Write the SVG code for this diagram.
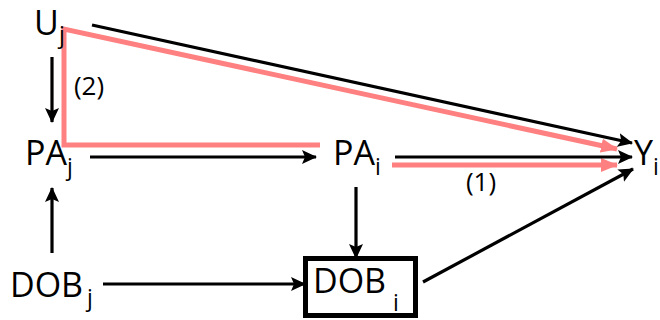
<svg xmlns="http://www.w3.org/2000/svg" width="660" height="320" viewBox="0 0 660 320">
<style>
.lbl{font-family:"Open Sans","Liberation Sans",sans-serif;font-size:34px;fill:#000}
.sub{font-family:"Open Sans","Liberation Sans",sans-serif;font-size:23px;fill:#000}
.num{font-family:"Open Sans","Liberation Sans",sans-serif;font-size:26px;fill:#000}
.blk{stroke:#000;stroke-width:3.2;fill:none}
.red{stroke:#ff8080;stroke-width:5;fill:none}
</style>
<defs>
<marker id="ab" markerUnits="userSpaceOnUse" markerWidth="16" markerHeight="14" refX="14" refY="7" orient="auto"><path d="M0,0 L15,7 L0,14 L3,7 Z" fill="#000"/></marker>
<marker id="ar" markerUnits="userSpaceOnUse" markerWidth="18" markerHeight="14" refX="16" refY="7" orient="auto"><path d="M0,0 L17,7 L0,14 Z" fill="#ff8080"/></marker>
</defs>
<g id="connectors">
<path class="red" d="M320,145 L64,145 L64,29 L617,149" marker-end="url(#ar)"/>
<line class="red" x1="392" y1="165" x2="617" y2="165" marker-end="url(#ar)"/>
<line class="blk" x1="92" y1="25" x2="632" y2="143" marker-end="url(#ab)"/>
<line class="blk" x1="52" y1="57" x2="52" y2="122" marker-end="url(#ab)"/>
<line class="blk" x1="90" y1="157" x2="316" y2="157" marker-end="url(#ab)"/>
<line class="blk" x1="395" y1="157" x2="632" y2="157" marker-end="url(#ab)"/>
<line class="blk" x1="52" y1="253" x2="52" y2="188" marker-end="url(#ab)"/>
<line class="blk" x1="103" y1="284" x2="305" y2="284" marker-end="url(#ab)"/>
<line class="blk" x1="356" y1="187" x2="356" y2="258" marker-end="url(#ab)"/>
<line class="blk" x1="423" y1="282" x2="633" y2="169" marker-end="url(#ab)"/>
<text class="num" x="89" y="95" text-anchor="middle">(2)</text>
<text class="num" x="481" y="191" text-anchor="middle">(1)</text>
</g>
<g id="Uj"><text class="lbl" x="34" y="35">U</text><text class="sub" x="59" y="43">j</text></g>
<g id="PAj"><text class="lbl" x="25" y="165">PA</text><text class="sub" x="67" y="175">j</text></g>
<g id="PAi"><text class="lbl" x="333" y="165">PA</text><text class="sub" x="375" y="175">i</text></g>
<g id="Yi"><text class="lbl" x="634" y="165">Y</text><text class="sub" x="653" y="175">i</text></g>
<g id="DOBj"><text class="lbl" x="10" y="297">DOB</text><text class="sub" x="87" y="306">j</text></g>
<g id="DOBi"><rect x="305.5" y="258.5" width="110" height="57" fill="#fff" stroke="#000" stroke-width="5"/><text class="lbl" x="313" y="293">DOB</text><text class="sub" x="393" y="311">i</text></g>
</svg>
